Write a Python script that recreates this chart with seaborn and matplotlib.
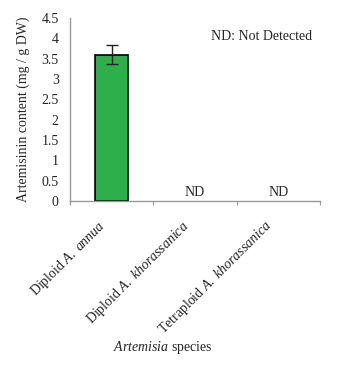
import numpy as np
import pandas as pd
import matplotlib
matplotlib.use('Agg')
import matplotlib.pyplot as plt
import matplotlib.transforms as mtransforms
import seaborn as sns

# data
species = ['Diploid A. annua', 'Diploid A. khorassanica', 'Tetraploid A. khorassanica']
species_tex = [r'Diploid$\ \it{A.\ annua}$', r'Diploid$\ \it{A.\ khorassanica}$', r'Tetraploid$\ \it{A.\ khorassanica}$']
content = [3.6, 0.0, 0.0]
err = [0.23, 0.0, 0.0]
detected = [True, False, False]

sns.set_style("white")
plt.rcParams['font.family'] = ['Liberation Serif', 'DejaVu Serif']
plt.rcParams['mathtext.fontset'] = 'custom'
plt.rcParams['mathtext.it'] = 'Liberation Serif:italic'
plt.rcParams['mathtext.rm'] = 'Liberation Serif'

df = pd.DataFrame({'species': species, 'content': content})

fig = plt.figure(figsize=(3.41, 3.66), dpi=100)
ax = fig.add_axes([0.205, 0.451, 0.733, 0.5])

sns.barplot(data=df, x='species', y='content', color='#2db04b', width=0.4,
            edgecolor='black', linewidth=1.2, saturation=1, ax=ax)
# no outline for the not-detected (zero) bars
for p, d in zip(ax.patches, detected):
    if not d:
        p.set_linewidth(0)
ax.errorbar(0, content[0], yerr=err[0], fmt='none', ecolor='#222222',
            elinewidth=1, capsize=4, capthick=1)

for i, d in enumerate(detected):
    if not d:
        ax.text(i, 0.05, 'ND', ha='center', va='bottom', fontsize=10)
ax.text(0.97, 0.9, 'ND: Not Detected', transform=ax.transAxes,
        ha='right', va='center', fontsize=10)

ax.set_xlim(-0.5, 2.5)
ax.set_ylim(0, 4.5)
ax.set_yticks(np.arange(0, 4.6, 0.5))
ax.set_yticklabels(['0', '0.5', '1', '1.5', '2', '2.5', '3', '3.5', '4', '4.5'], fontsize=10)
ax.tick_params(axis='y', length=0, pad=8)

ax.set_xticks([0, 1, 2])
ax.set_xticklabels(species_tex, rotation=45, ha='right', rotation_mode='anchor', fontsize=10)
ax.tick_params(axis='x', which='major', length=0, pad=12)
shift = mtransforms.ScaledTranslation(-14 / 100, 0, fig.dpi_scale_trans)
for lab in ax.get_xticklabels():
    lab.set_transform(lab.get_transform() + shift)
ax.set_xticks([-0.5, 0.5, 1.5, 2.5], minor=True)
ax.tick_params(axis='x', which='minor', length=3, width=0.8, color='#999999', direction='out', bottom=True)

for s in ['top', 'right']:
    ax.spines[s].set_visible(False)
for s in ['left', 'bottom']:
    ax.spines[s].set_color('#999999')
    ax.spines[s].set_linewidth(1)

ax.set_xlabel('')
ax.set_ylabel('Artemisinin content (mg / g DW)', fontsize=10, labelpad=8)
fig.text(163 / 341, 1 - 348 / 366, r'$\it{Artemisia}$ species', ha='center', va='center', fontsize=10)

fig.savefig('out.png', dpi=100)
